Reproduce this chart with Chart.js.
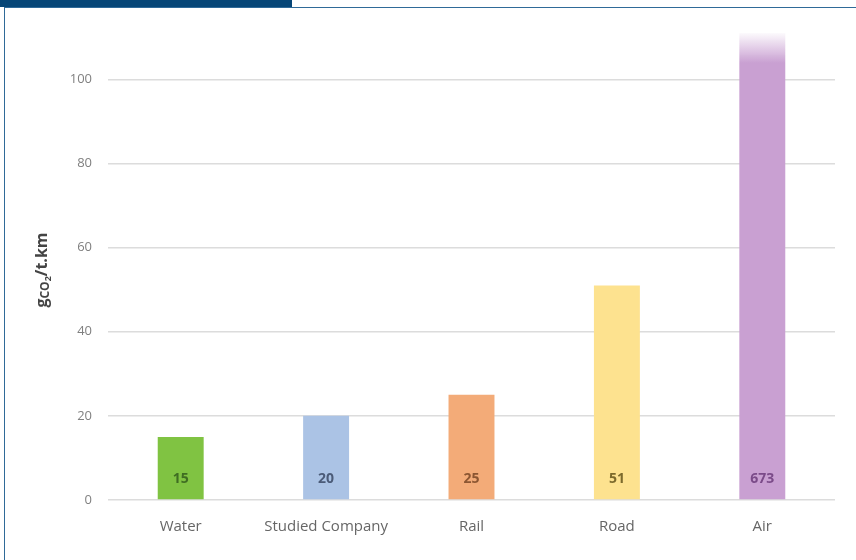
<!DOCTYPE html>
<html>
<head>
<meta charset="utf-8">
<script src="https://cdn.jsdelivr.net/npm/chart.js@4"></script>
<style>
  body { margin: 0; background: #fff; }
  #wrap { position: relative; width: 856px; height: 560px; }
  #tab { position: absolute; left: 0; top: 0; width: 292px; height: 7px; background: #064677; }
  #topline { position: absolute; left: 4px; top: 7px; right: 0; height: 1px; background: #2f6a98; }
  #leftline { position: absolute; left: 4px; top: 7px; bottom: 0; width: 1px; background: #2f6a98; }
  canvas { position: absolute; left: 0; top: 0; }
</style>
</head>
<body>
<div id="wrap">
  <canvas id="chart" width="856" height="560"></canvas>
  <div id="tab"></div>
  <div id="topline"></div>
  <div id="leftline"></div>
</div>
<script>
const categories = ['Water', 'Studied Company', 'Rail', 'Road', 'Air'];
const values = [15, 20, 25, 51, 673];
const barColors = ['#80c342', '#abc3e5', '#f3ab78', '#fde28f', '#c9a0d2'];
const labelColors = ['#3f6d22', '#4b5b78', '#8c5632', '#7c6a2c', '#7b4b89'];
const yTicks = [0, 20, 40, 60, 80, 100];

// fade the top of a bar that runs past the axis (Air)
function barFill(ctx) {
  const chart = ctx.chart;
  const i = ctx.dataIndex;
  const area = chart.chartArea;
  if (!area || values[i] <= chart.scales.y.max) return barColors[i];
  const g = chart.ctx.createLinearGradient(0, area.top, 0, area.top + 30);
  g.addColorStop(0, 'rgba(201,160,210,0.05)');
  g.addColorStop(1, barColors[i]);
  return g;
}

const valueLabels = {
  id: 'valueLabels',
  afterDatasetsDraw(chart) {
    const c = chart.ctx;
    const meta = chart.getDatasetMeta(0);
    const base = chart.scales.y.getPixelForValue(0);
    c.save();
    c.font = 'bold 14px "Open Sans"';
    c.textAlign = 'center';
    c.textBaseline = 'middle';
    meta.data.forEach((bar, i) => {
      c.fillStyle = labelColors[i];
      c.fillText(values[i], bar.x, base - 21);
    });
    c.restore();
  }
};

const yTitle = {
  id: 'yTitle',
  afterDraw(chart) {
    const c = chart.ctx;
    c.save();
    c.translate(42, 270);
    c.rotate(-Math.PI / 2);
    c.fillStyle = '#444';
    c.textBaseline = 'middle';
    const parts = [
      ['g', 'bold 16px "Open Sans"', 0],
      ['CO', 'bold 12px "Open Sans"', 4],
      ['2', 'bold 9px "Open Sans"', 6],
      ['/t.km', 'bold 16px "Open Sans"', 0]
    ];
    let w = 0;
    parts.forEach(p => { c.font = p[1]; w += c.measureText(p[0]).width; });
    let x = -w / 2;
    parts.forEach(p => {
      c.font = p[1];
      c.fillText(p[0], x, p[2]);
      x += c.measureText(p[0]).width;
    });
    c.restore();
  }
};

new Chart(document.getElementById('chart'), {
  type: 'bar',
  data: {
    labels: categories,
    datasets: [{
      data: values,
      backgroundColor: barFill,
      barPercentage: 0.316,
      categoryPercentage: 1
    }]
  },
  options: {
    responsive: false,
    animation: false,
    layout: { padding: { top: 33, right: 21, left: 0, bottom: 0 } },
    plugins: { legend: { display: false }, tooltip: { enabled: false } },
    scales: {
      x: {
        grid: { display: false },
        border: { display: false },
        ticks: { color: '#666', font: { family: 'Open Sans', size: 15 }, padding: 10 },
        afterFit(scale) { scale.height = 60; }
      },
      y: {
        min: 0,
        max: 111,
        grid: { color: '#dcdcdc', lineWidth: 1.5, drawTicks: false },
        border: { display: false },
        ticks: {
          includeBounds: false,
          stepSize: 20,
          padding: 16,
          color: '#808080',
          font: { family: 'Open Sans', size: 13 },
          callback: v => yTicks.includes(v) ? v : ''
        },
        afterFit(scale) { scale.width = 108; }
      }
    }
  },
  plugins: [valueLabels, yTitle]
});
</script>
</body>
</html>
